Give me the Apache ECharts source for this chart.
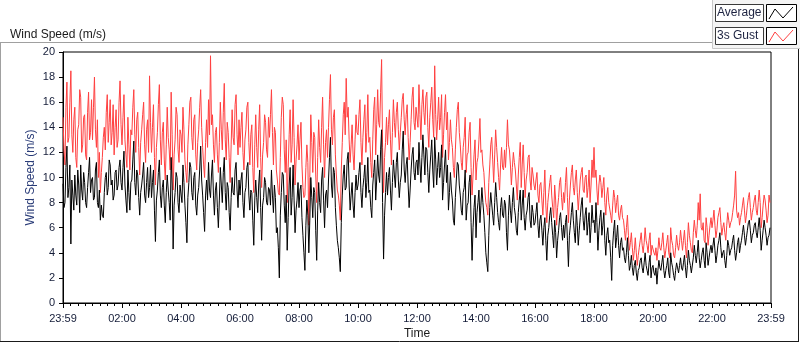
<!DOCTYPE html>
<html>
<head>
<meta charset="utf-8">
<script src="https://cdn.jsdelivr.net/npm/echarts@6/dist/echarts.min.js"></script>
<style>
html,body{margin:0;padding:0;background:#fff;}
#chart{width:800px;height:342px;}
</style>
</head>
<body>
<div id="chart"></div>
<script>
// time axis tick labels (every 2 hours)
const tickLabels = ['23:59','02:00','04:00','06:00','08:00','10:00','12:00','14:00','16:00','18:00','20:00','22:00','23:59'];
const sampleMinutes = 2; // one sample every 2 minutes, starting at 23:59
// Average wind speed (m/s), 30 samples per hour
const avgSpeed = [
 9.5,7.6, 8.0,10.8, 12.5,8.4, 9.2,11.0, 4.7,9.8, 8.6,7.4, 10.2,8.6, 7.8,10.6, 9.4,7.2, 11.0,9.0, 8.2,10.4, 9.6,8.0, 7.6,9.2, 10.4,11.6, 8.8,9.8,
 10.0,8.2, 8.4,10.6, 11.2,8.0, 7.6,9.0, 6.6,7.8, 7.0,6.8, 8.8,10.0, 10.4,8.6, 9.2,11.4, 11.0,9.4, 9.8,8.2, 8.6,10.4, 10.6,9.0, 9.4,10.8, 11.4,9.6,
 9.0,10.8, 12.1,9.4, 8.2,7.2, 10.6,8.8, 7.4,9.6, 9.8,11.4, 12.9,9.6, 8.6,10.6, 10.2,8.4, 7.0,8.8, 9.4,10.2, 11.2,8.6, 8.0,9.6, 10.8,8.4, 9.2,11.0,
 8.4,9.6, 10.6,7.4, 4.9,8.2, 9.0,10.4, 11.4,8.6, 7.6,9.2, 9.8,7.8, 6.4,8.8, 10.2,9.0, 8.0,6.6, 11.6,9.4, 4.3,7.8, 8.8,10.4, 10.0,8.0, 7.2,9.4,
 9.4,8.0, 11.0,9.6, 7.8,6.4, 4.8,8.4, 9.6,11.2, 10.8,8.8, 8.2,10.0, 10.4,7.8, 7.0,8.6, 9.2,10.6, 12.5,9.8, 8.6,7.2, 5.7,8.6, 9.8,8.2, 11.2,9.0,
 8.4,10.2, 11.4,8.6, 7.0,9.0, 9.6,7.6, 6.0,8.2, 10.8,9.4, 8.0,10.4, 11.6,8.8, 7.4,9.6, 9.2,7.2, 5.8,8.4, 10.0,8.8, 8.6,10.6, 11.2,9.0, 7.6,9.8,
 8.6,9.8, 10.4,8.0, 6.8,8.8, 9.2,10.8, 11.2,8.6, 7.4,9.0, 8.8,6.6, 4.6,8.2, 9.8,8.4, 7.2,9.4, 10.6,7.6, 5.0,7.8, 8.4,10.0, 9.6,8.0, 7.8,9.2,
 9.0,7.8, 10.6,8.6, 7.2,9.4, 8.4,5.6, 6.0,4.4, 2.0,7.0, 8.8,10.4, 10.2,7.8, 6.4,8.6, 4.2,6.8, 9.4,10.8, 7.0,8.4, 11.0,8.2, 5.6,7.4, 8.2,9.6,
 7.6,9.0, 9.4,6.8, 5.4,4.0, 2.6,6.2, 8.2,7.0, 4.0,6.6, 10.0,8.4, 6.8,9.2, 8.8,5.8, 3.4,7.4, 9.6,8.0, 7.2,9.8, 10.8,8.2, 6.0,8.6, 9.0,7.6,
 9.8,11.6, 13.2,9.4, 8.4,10.8, 10.4,7.6, 6.2,5.0, 4.4,3.6, 2.5,6.4, 8.6,10.2, 11.0,9.0, 9.2,11.4, 12.0,9.4, 7.4,8.6, 9.6,7.8, 6.8,8.8, 10.2,9.0,
 9.4,10.4, 11.2,8.8, 7.6,9.2, 10.0,11.0, 8.4,9.6, 11.6,8.8, 9.0,7.6, 6.8,9.4, 10.4,11.4, 8.2,9.8, 11.8,10.2, 9.6,12.2, 13.8,8.0, 3.5,7.0, 8.8,10.4,
 8.6,10.0, 10.8,9.0, 7.4,9.6, 11.4,10.2, 9.2,11.2, 12.0,9.8, 8.4,9.6, 10.2,12.2, 13.7,10.6, 9.6,11.0, 11.6,9.4, 7.6,9.0, 10.6,11.8, 12.4,10.4, 9.8,11.2,
 11.4,10.2, 12.8,11.0, 9.6,11.6, 13.4,11.8, 10.2,12.4, 12.2,10.4, 8.8,10.6, 11.8,13.0, 10.6,9.2, 13.2,11.4, 9.4,10.8, 12.0,10.0, 10.8,12.6, 8.2,9.6, 11.0,12.2,
 9.6,11.0, 7.4,8.8, 10.4,9.0, 8.2,6.6, 6.2,8.4, 9.8,11.2, 11.0,9.4, 8.6,7.4, 7.0,8.8, 9.2,10.6, 6.6,7.8, 8.0,9.6, 10.2,6.4, 3.4,6.0, 7.6,8.6,
 5.2,7.2, 8.0,9.0, 6.4,7.8, 9.2,8.0, 7.0,5.6, 4.0,3.2, 2.5,5.4, 7.6,8.8, 8.8,7.0, 6.2,8.0, 9.6,8.4, 7.2,6.4, 5.8,7.6, 8.4,7.0, 6.8,8.2,
 7.8,5.6, 4.2,7.0, 8.6,7.4, 6.4,8.0, 9.2,7.6, 7.0,5.8, 5.4,7.2, 8.2,9.0, 6.6,7.8, 9.0,6.8, 5.8,7.0, 7.4,8.4, 8.8,6.6, 6.0,7.8, 7.2,6.2,
 6.4,7.2, 8.0,6.2, 5.2,6.6, 7.0,5.8, 4.6,6.0, 6.8,5.0, 3.4,5.4, 6.0,7.0, 7.6,6.4, 5.4,4.4, 6.6,5.6, 3.6,5.0, 5.8,6.8, 7.2,6.0, 5.0,6.2,
 5.2,6.4, 7.0,5.0, 2.9,5.4, 6.2,7.2, 8.0,6.6, 5.6,4.8, 7.4,6.2, 4.6,5.8, 6.8,7.8, 8.4,6.6, 5.8,7.0, 7.6,5.4, 6.4,7.2, 4.8,6.0, 7.8,6.4,
 6.6,5.6, 8.0,6.4, 4.2,5.8, 6.8,7.4, 5.4,6.2, 7.2,5.0, 3.8,5.4, 6.0,4.8, 5.0,3.6, 1.8,4.6, 5.8,6.6, 4.4,5.2, 6.2,4.6, 3.6,4.8, 5.2,4.2,
 4.4,3.6, 3.2,4.0, 5.2,3.8, 2.6,3.0, 3.8,2.8, 2.2,3.0, 3.4,2.4, 1.8,2.6, 2.8,3.4, 3.6,2.8, 2.4,3.2, 4.0,3.0, 2.6,2.2, 3.2,3.8, 2.0,2.8,
 3.0,2.4, 2.2,2.8, 1.5,2.6, 3.4,2.8, 2.6,3.2, 3.8,2.6, 2.0,2.6, 3.0,3.6, 2.4,2.0, 4.0,3.2, 2.8,2.2, 1.8,2.6, 3.2,2.8, 2.4,3.0, 3.6,2.8,
 2.6,3.2, 3.8,2.8, 2.0,3.0, 4.2,3.4, 3.0,2.4, 2.4,3.6, 4.6,3.8, 3.2,4.0, 5.0,3.6, 2.8,3.4, 4.0,4.4, 3.4,2.8, 4.8,4.0, 3.0,3.6, 4.2,4.6,
 4.0,4.6, 5.2,4.2, 3.2,3.8, 4.6,5.0, 5.6,4.4, 3.6,4.0, 4.2,3.4, 2.8,3.8, 5.0,4.6, 3.8,4.2, 4.4,5.0, 5.4,4.2, 3.4,4.0, 4.8,5.2, 4.0,4.6,
 5.0,5.6, 6.2,5.4, 4.6,5.2, 5.8,6.4, 6.6,5.8, 4.8,5.4, 5.6,6.2, 6.4,5.6, 5.2,6.0, 6.8,5.8, 4.2,5.0, 5.8,6.6, 6.0,5.4, 4.6,5.2, 5.4,6.0
];
// 3s gust wind speed (m/s), 30 samples per hour
const gustSpeed = [
 14.8,12.2, 11.0,15.6, 17.6,12.8, 13.2,16.0, 18.5,13.4, 12.0,14.6, 15.6,11.6, 10.8,13.8, 14.2,17.0, 16.4,12.0, 12.6,14.8, 15.0,11.8, 11.4,15.2, 16.8,13.0, 13.6,16.2,
 13.0,15.6, 18.0,13.8, 12.4,14.6, 10.0,12.0, 8.8,10.4, 11.6,13.2, 14.0,12.2, 15.2,16.6, 12.8,14.4, 16.2,12.6, 13.6,15.8, 11.8,14.0, 15.4,12.4, 13.0,16.0, 17.7,14.2,
 12.6,14.8, 16.6,13.0, 11.8,10.8, 14.8,12.6, 10.6,13.8, 13.4,15.6, 17.0,13.4, 12.0,14.6, 15.2,12.4, 10.2,12.8, 13.8,15.0, 16.0,12.6, 11.2,13.8, 14.6,12.0, 18.1,14.4,
 12.0,14.0, 15.8,11.6, 9.4,12.4, 13.6,15.8, 17.4,13.0, 11.0,13.6, 14.4,11.4, 9.8,12.6, 15.6,13.2, 12.2,10.6, 16.8,13.4, 9.0,11.8, 13.0,15.6, 15.0,12.2, 11.2,13.8,
 13.4,12.0, 15.6,13.8, 11.4,10.4, 9.6,12.6, 14.2,16.0, 16.4,13.2, 12.2,14.6, 15.0,11.8, 10.6,12.8, 13.8,15.6, 17.0,14.0, 12.4,11.0, 10.0,12.8, 14.6,12.4, 16.2,13.4,
 19.7,14.2, 15.0,12.6, 11.2,13.6, 14.0,11.8, 10.4,12.8, 16.0,13.8, 12.2,15.2, 17.5,13.0, 11.4,14.4, 13.6,11.6, 9.6,12.6, 15.4,13.2, 12.6,15.8, 16.6,13.4, 11.8,14.6,
 12.4,14.0, 15.2,12.0, 10.6,13.0, 13.8,15.6, 16.0,12.8, 11.0,13.4, 14.2,10.8, 8.8,12.6, 15.0,12.4, 10.8,13.8, 15.8,11.6, 9.2,11.8, 12.8,15.0, 14.4,12.2, 11.6,14.8,
 13.2,15.0, 17.0,13.6, 11.0,14.0, 13.6,10.6, 9.8,8.8, 8.6,11.6, 14.8,16.4, 15.8,12.2, 10.4,13.0, 8.0,10.8, 13.4,15.4, 11.2,12.6, 16.2,13.2, 9.4,11.4, 12.6,14.2,
 11.4,13.0, 14.4,11.0, 9.2,8.4, 8.6,10.8, 12.6,11.2, 6.2,10.0, 15.0,12.8, 10.4,13.6, 13.2,10.2, 8.0,11.6, 14.6,12.4, 11.2,14.0, 16.4,12.6, 10.0,12.8, 13.8,11.6,
 14.0,16.2, 18.2,13.8, 12.6,14.8, 15.4,11.8, 10.2,9.0, 8.6,7.8, 6.6,10.6, 12.8,15.0, 16.0,13.4, 17.9,14.8, 15.6,13.0, 11.2,12.6, 14.2,11.8, 10.6,13.0, 15.0,13.6,
 13.4,15.0, 16.2,12.8, 11.0,13.2, 14.6,15.8, 12.0,13.6, 16.6,12.8, 13.2,11.2, 10.0,13.0, 15.4,16.4, 11.8,14.2, 17.0,14.4, 14.0,16.8, 19.4,12.4, 8.8,11.6, 12.8,14.8,
 12.6,14.2, 15.4,13.0, 11.0,13.6, 16.2,14.4, 13.2,15.2, 16.0,13.8, 12.2,13.6, 14.8,16.2, 16.7,14.6, 13.4,15.0, 15.8,13.2, 11.4,12.8, 14.6,16.4, 17.2,14.4, 13.8,15.6,
 15.6,14.0, 17.4,15.0, 13.0,15.8, 17.0,15.2, 14.2,16.4, 16.8,14.0, 12.4,14.8, 16.0,17.2, 14.6,13.2, 18.9,15.0, 13.0,14.6, 16.4,13.8, 14.8,16.6, 11.6,13.4, 15.2,16.6,
 13.8,15.2, 11.4,12.8, 14.6,13.0, 12.4,10.8, 10.0,12.2, 14.0,15.4, 16.0,13.6, 12.6,11.2, 10.6,12.4, 13.2,14.8, 10.4,11.8, 12.0,13.6, 14.4,10.8, 8.6,10.2, 11.8,13.0,
 9.8,11.2, 11.6,13.0, 14.7,12.0, 12.2,11.0, 10.4,9.0, 8.0,7.6, 7.0,9.6, 11.0,12.6, 13.2,11.4, 9.6,11.8, 13.8,12.4, 11.2,10.0, 9.0,11.0, 12.4,10.8, 10.6,12.2,
 10.8,12.4, 14.6,12.6, 12.2,11.0, 9.4,10.8, 12.0,11.2, 10.6,9.4, 8.2,10.2, 11.6,12.8, 9.2,11.0, 12.6,10.4, 8.4,9.8, 10.4,11.6, 11.8,9.8, 9.0,10.8, 10.2,9.4,
 9.0,9.8, 10.4,8.6, 8.0,9.4, 9.6,8.2, 7.0,8.8, 10.6,7.8, 6.4,8.0, 8.8,9.6, 10.2,8.6, 7.6,6.8, 9.4,8.2, 6.2,7.6, 8.4,9.6, 10.0,8.4, 7.4,8.8,
 8.0,9.6, 10.8,8.4, 6.4,8.2, 9.4,10.4, 11.0,9.2, 8.6,9.8, 10.6,8.8, 7.4,8.6, 9.8,10.4, 10.8,9.0, 8.8,10.0, 10.2,8.4, 9.2,10.6, 8.0,9.4, 11.4,10.0,
 12.4,10.0, 10.6,9.0, 7.8,9.4, 10.2,9.6, 8.4,9.2, 10.0,8.0, 7.0,8.6, 9.2,8.0, 8.0,7.0, 6.4,7.8, 9.0,8.4, 7.2,8.0, 8.6,7.0, 6.6,7.4, 7.8,6.8,
 6.6,5.8, 5.0,6.0, 7.0,5.4, 4.2,4.8, 5.6,4.4, 3.4,4.2, 5.2,4.0, 3.0,3.8, 4.4,5.0, 5.6,4.6, 4.0,4.8, 6.0,5.0, 4.6,4.0, 5.0,5.6, 3.8,4.6,
 4.6,4.0, 3.8,4.4, 3.4,4.2, 5.2,4.4, 4.2,4.8, 5.6,4.4, 3.6,4.2, 4.8,5.4, 4.0,3.6, 6.0,5.0, 4.6,3.8, 3.6,4.4, 5.4,4.6, 4.2,4.8, 5.8,5.0,
 4.2,5.0, 5.8,4.6, 3.6,4.8, 6.4,5.4, 4.8,4.2, 4.0,5.6, 6.6,5.8, 5.2,6.2, 8.0,6.6, 8.7,6.0, 5.8,6.4, 5.0,4.8, 6.8,6.0, 4.6,5.4, 6.2,6.8,
 6.0,6.6, 7.4,6.2, 5.2,5.8, 6.8,7.2, 7.6,6.4, 5.4,6.0, 6.4,5.6, 5.0,6.2, 7.2,6.6, 6.0,6.4, 6.6,7.2, 7.8,8.6, 10.5,7.4, 6.8,7.2, 6.2,6.8,
 7.2,7.8, 8.4,7.4, 6.4,7.0, 7.8,8.4, 8.8,7.6, 6.6,7.2, 7.6,8.2, 8.6,7.4, 7.0,8.0, 9.0,8.0, 6.0,6.8, 7.8,8.6, 8.2,7.4, 6.4,7.0, 8.6,8.0
];
const seriesNames = ['Average', '3s Gust'];

const toPairs = arr => arr.map((v, i) => [i * sampleMinutes, v]);
const FONT = 'Liberation Sans, Arial, sans-serif';
const chart = echarts.init(document.getElementById('chart'), null, {renderer: 'canvas'});

function legendItem(y, name, color) {
  return [
    {type: 'rect', shape: {x: 715.5, y: y + 0.5, width: 48, height: 17}, style: {fill: '#fff', stroke: '#3a3a3a', lineWidth: 1}},
    {type: 'text', style: {x: 717, y: y + 9, text: name, font: '12px ' + FONT, fill: '#1c2240', verticalAlign: 'middle'}},
    {type: 'rect', shape: {x: 766.5, y: y + 0.5, width: 30, height: 17}, style: {fill: '#fff', stroke: '#000', lineWidth: 1}},
    {type: 'polyline', shape: {points: [[769, y + 15], [775, y + 5], [783, y + 14], [793, y + 3]]}, style: {stroke: color, lineWidth: 1, fill: null}}
  ];
}

const option = {
  animation: false,
  backgroundColor: '#fff',
  title: {
    text: 'Wind Speed (m/s)', left: 5, top: 24,
    textStyle: {fontFamily: FONT, fontSize: 12, fontWeight: 'normal', color: '#1a1a1a'}
  },
  grid: {left: 63, right: 29, top: 52, bottom: 39, containLabel: false, outerBoundsMode: 'none',
         show: true, borderColor: '#000', borderWidth: 1, backgroundColor: '#fff'},
  xAxis: {
    type: 'value', min: 0, max: 1440, interval: 120,
    name: 'Time', nameLocation: 'middle', nameGap: 25, nameMoveOverlap: false,
    nameTextStyle: {fontFamily: FONT, fontSize: 12, color: '#1a1a1a'},
    axisLine: {lineStyle: {color: '#000'}},
    axisTick: {show: true, length: 5, lineStyle: {color: '#000'}},
    minorTick: {show: true, splitNumber: 8, length: 3, lineStyle: {color: '#000'}},
    splitLine: {show: false},
    axisLabel: {
      margin: 10, fontFamily: FONT, fontSize: 11, color: '#141c38',
      showMinLabel: true, showMaxLabel: true,
      formatter: v => tickLabels[Math.round(v / 120)]
    }
  },
  yAxis: {
    type: 'value', min: 0, max: 20, interval: 2,
    name: 'Wind Speed (m/s)', nameLocation: 'middle', nameGap: 26, nameRotate: 90, nameMoveOverlap: false,
    nameTextStyle: {fontFamily: FONT, fontSize: 12, color: '#2a3c78'},
    axisLine: {show: true, lineStyle: {color: '#000'}},
    axisTick: {show: true, length: 4, lineStyle: {color: '#000'}},
    splitLine: {show: false},
    axisLabel: {margin: 8, fontFamily: FONT, fontSize: 11, color: '#141c38'}
  },
  series: [
    {name: seriesNames[1], type: 'line', data: toPairs(gustSpeed), showSymbol: false, symbol: 'none',
     lineStyle: {color: '#ff4040', width: 1}, itemStyle: {color: '#ff4040'}},
    {name: seriesNames[0], type: 'line', data: toPairs(avgSpeed), showSymbol: false, symbol: 'none',
     lineStyle: {color: '#000', width: 1}, itemStyle: {color: '#000'}}
  ],
  graphic: [
    // outer sunken frame
    {type: 'line', shape: {x1: 0, y1: 42.5, x2: 712, y2: 42.5}, style: {stroke: '#a0a0a0', lineWidth: 1}},
    {type: 'line', shape: {x1: 0.5, y1: 42, x2: 0.5, y2: 341}, style: {stroke: '#a0a0a0', lineWidth: 1}},
    {type: 'line', shape: {x1: 0, y1: 341.5, x2: 799, y2: 341.5}, style: {stroke: '#1a1a1a', lineWidth: 1}},
    {type: 'line', shape: {x1: 798.5, y1: 49, x2: 798.5, y2: 342}, style: {stroke: '#1a1a1a', lineWidth: 1}},
    // legend panel
    {type: 'rect', shape: {x: 712.5, y: -1, width: 90, height: 49.5}, style: {fill: '#f4f4f4', stroke: '#c8c8c8', lineWidth: 1}},
    ...legendItem(4, seriesNames[0], '#000'),
    ...legendItem(27, seriesNames[1], '#ff4040')
  ]
};
chart.setOption(option);
</script>
</body>
</html>
